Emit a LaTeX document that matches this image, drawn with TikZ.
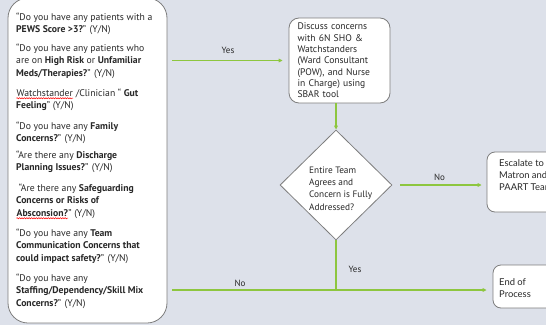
\documentclass[tikz,border=0pt]{standalone}
\usepackage{fontspec}
\setmainfont{PT Sans}
\newfontfamily\latofont{Lato}
\usetikzlibrary{shapes.geometric,arrows.meta,decorations.pathmorphing}
\definecolor{bg}{RGB}{221,225,234}
\definecolor{flow}{RGB}{141,198,63}
\definecolor{edgegray}{RGB}{125,125,125}
\definecolor{ink}{RGB}{40,40,40}
\newcommand\spellerr[1]{\tikz[baseline=(sw.base)]{\node[inner sep=0pt] (sw) {#1}; \draw[red, line width=0.5pt, decorate, decoration={snake,amplitude=0.6pt,segment length=2.4pt}] ([yshift=-2pt]sw.base west) -- ([yshift=-2pt]sw.base east);}}
\begin{document}
\begin{tikzpicture}[x=1pt,y=1pt,
  box/.style={draw=edgegray, line width=0.8pt, fill=white},
  qtext/.style={anchor=north west, align=left, inner sep=0pt, font=\fontsize{9.7}{12.5}\selectfont, text=ink},
  btext/.style={font=\fontsize{9.6}{11.3}\selectfont, text=ink, align=left},
  dtext/.style={font=\fontsize{9.3}{12.2}\selectfont, text=ink, align=left, inner sep=0pt},
  ltext/.style={font=\latofont\fontsize{9.4}{12.4}\selectfont, text=ink, align=left, inner sep=0pt},
  lbl/.style={font=\fontsize{9}{10}\selectfont, text=ink, inner sep=1pt},
  flowline/.style={draw=flow, line width=1.3pt},
  flowarrow/.style={flowline, -{Triangle[length=4pt,width=3.6pt]}},
]
\fill[bg] (0,0) rectangle (546,325);
\useasboundingbox (0,0) rectangle (546,325);
\begin{scope}
\clip (0,0) rectangle (546,325);
% left question box
\node[box, rounded corners=20pt, minimum width=159pt, minimum height=325pt, inner sep=0pt] (q) at (87.5,164.5) {};
\node[qtext] (p1) at (16,312.5) {“Do you have any patients with a\\\textbf{PEWS Score >3?}” (Y/N)};
\node[qtext] (p2) at (16,281.5) {“Do you have any patients who\\are on \textbf{High Risk} or \textbf{Unfamiliar}\\\textbf{Meds/Therapies?}” (Y/N)};
\node[qtext] (p3) at (16,236.5) {\spellerr{Watchstander} /Clinician “ \textbf{Gut}\\\textbf{Feeling}” (Y/N)};
\node[qtext] (p4) at (16,203.5) {“Do you have any \textbf{Family}\\\textbf{Concerns?}” (Y/N)};
\node[qtext] (p5) at (16,174.5) {“Are there any \textbf{Discharge}\\\textbf{Planning Issues?}” (Y/N)};
\node[qtext] (p6) at (16,141.5) {\ “Are there any \textbf{Safeguarding}\\\textbf{Concerns or Risks of}\\\spellerr{\textbf{Absconsion?}}” (Y/N)};
\node[qtext] (p7) at (16,96.5) {“Do you have any \textbf{Team}\\\textbf{Communication Concerns that}\\\textbf{could impact safety?}” (Y/N)};
\node[qtext] (p8) at (16,51.5) {“Do you have any\\\textbf{Staffing/Dependency/Skill Mix}\\\textbf{Concerns?}” (Y/N)};
% discuss box
\node[box, btext, rounded corners=10pt, minimum width=99pt, minimum height=85pt, text width=84pt, inner xsep=8.5pt] (disc) at (339.5,264.5)
  {Discuss concerns\\with 6N SHO \&\\Watchstanders\\(Ward Consultant\\(POW), and Nurse\\in Charge) using\\SBAR tool};
% decision
\node[box, shape=diamond, minimum width=112pt, minimum height=110pt, inner sep=0pt] (dec) at (336,140) {};
\node[dtext, anchor=west] (dect) at (309,136.5) {Entire Team\\Agrees and\\Concern is Fully\\Addressed?};
% escalate
\node[box, rounded corners=8pt, minimum width=80pt, minimum height=60pt] (esc) at (527,143) {};
\node[ltext, anchor=west] (esct) at (499,150) {Escalate to\\Matron and\\PAART Team};
% end
\node[box, rounded corners=8pt, minimum width=74pt, minimum height=43pt] (fin) at (530,38.5) {};
\node[ltext, anchor=west] (fint) at (499,37) {End of\\Process};
\coordinate (jn) at (dec.south |- 0,35);
% connectors
\draw[flowarrow, shorten <=5pt, shorten >=6pt] (q.east |- disc.west) -- (disc.west) node[lbl, midway, above=5pt] (lyes1) {Yes};
\draw[flowarrow] (disc.south -| dec.north) -- (dec.north);
\draw[flowarrow, shorten <=8pt, shorten >=5pt] (dec.east) -- (dec.east -| esc.west) node[lbl, midway, above=3pt] (lno1) {No};
\draw[flowline] (dec.south) -- (jn);
\node[lbl] (lyes2) at (355,56) {Yes};
\draw[flowarrow, shorten <=5pt, shorten >=6pt] (q.east |- jn) -- (fin.west |- jn);
\node[lbl] (lno2) at (240,42) {No};
\end{scope}
\end{tikzpicture}
\end{document}
